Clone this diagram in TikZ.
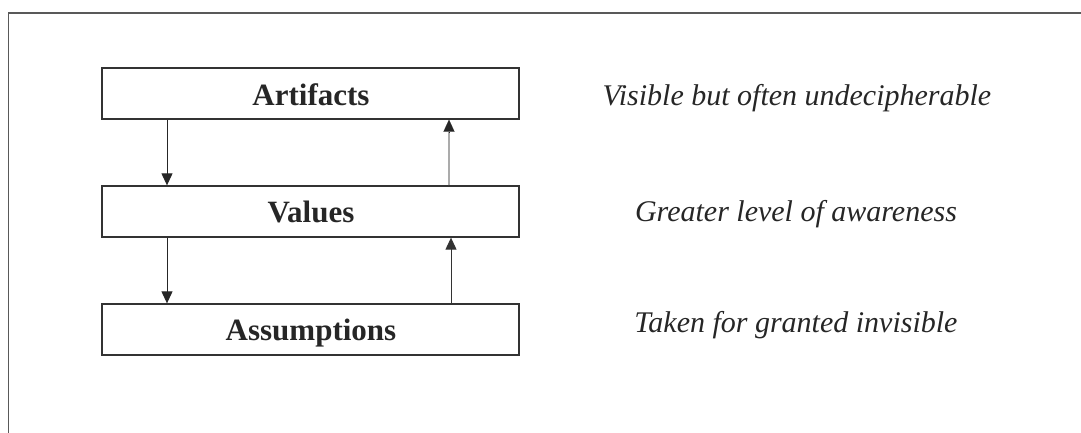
\documentclass[tikz,border=0pt]{standalone}
\usepackage{fontspec}
\setmainfont{Liberation Serif}
\usetikzlibrary{arrows.meta}
\begin{document}
\begin{tikzpicture}[x=1pt,y=-1pt,
  layer/.style={draw=black!80, line width=1.3pt, minimum width=417pt, minimum height=51pt,
    inner sep=0pt, text=black!85},
  lbl/.style={anchor=base, font=\fontsize{31}{36}\selectfont\bfseries, text=black!85},
  note/.style={font=\fontsize{30}{36}\selectfont\itshape, text=black!85, anchor=base},
  flow/.style={line width=1pt, -{Triangle[length=12pt,width=11pt]}}]
  \useasboundingbox (0,0) rectangle (1081,433);
  % open frame: top and left edges
  \draw[black!65, line width=1.4pt] (8.3,433) -- (8.3,13) -- (1081,13);

  % the three levels
  \node[layer] (A) at (310.5,93.5) {};
  \node[layer] (V) at (310.5,211.5) {};
  \node[layer] (S) at (310.5,329.5) {};
  \node[lbl] (At) at (311,105.5) {Artifacts};
  \node[lbl] (Vt) at (311,222.5) {Values};
  \node[lbl] (St) at (311,340) {Assumptions};

  % arrow columns
  \coordinate (lc) at (167,0);
  \coordinate (rc1) at (449,0);
  \coordinate (rc2) at (451,0);

  \draw[flow, black!85] (A.south -| lc) -- (V.north -| lc);
  \draw[flow, black!85] (V.south -| lc) -- (S.north -| lc);
  % pale shaft with a dark head
  \coordinate (tip) at ([yshift=-12pt]A.south -| rc1);
  \draw[line width=1.8pt, black!33] (V.north -| rc1) -- (tip);
  \draw[flow, black!85, line width=0.1pt] (tip) -- (A.south -| rc1);
  \draw[flow, black!80] (S.north -| rc2) -- (V.south -| rc2);

  % descriptions
  \node[note] (n1) at (797,106) {Visible but often undecipherable};
  \node[note] (n2) at (796,221) {Greater level of awareness};
  \node[note] (n3) at (796,332) {Taken for granted invisible};
\end{tikzpicture}
\end{document}
